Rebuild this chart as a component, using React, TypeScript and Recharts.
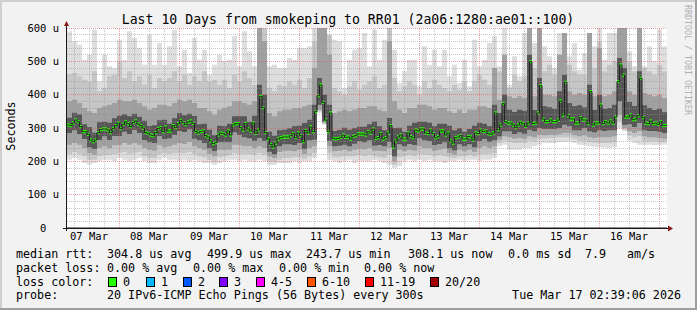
import React from 'react';
import { ComposedChart, Area, Line, XAxis, YAxis, ReferenceLine, CartesianGrid } from 'recharts';

// ---------- data (hourly medians, seconds in µs) ----------
const median = [
  309,307,315,324,319,304,289,289,281,264,
  259,264,286,295,297,297,294,286,298,307,
  315,298,311,319,313,304,316,321,312,307,
  300,286,284,279,277,286,298,301,289,303,
  291,291,307,301,313,323,316,310,318,321,
  314,290,285,289,291,277,273,261,253,256,
  279,285,283,279,291,279,309,313,313,301,
  294,313,297,291,315,284,294,394,361,286,
  267,251,243,255,267,271,273,273,273,277,
  283,271,285,277,259,293,285,303,289,349,
  397,429,377,324,289,345,269,267,269,272,
  279,272,273,267,275,277,282,282,282,279,
  289,285,297,269,271,283,267,271,285,307,
  243,261,273,279,267,267,285,274,271,294,
  291,297,297,285,283,294,283,271,274,291,
  291,279,285,261,255,271,273,277,267,267,
  275,273,264,285,283,294,289,291,283,281,
  285,345,295,309,373,319,315,315,309,301,
  309,317,313,305,315,499,313,315,345,427,
  327,319,319,324,319,319,324,381,339,437,
  337,327,327,315,315,331,324,324,313,409,
  309,315,315,369,313,319,315,321,315,333,
  439,489,459,333,333,339,325,327,337,449,
  331,315,313,321,313,315,311,319,307,308,
];

// smoke (ping distribution) per 2-hour column
const smokeMax = [
  590,560,550,505,520,595,440,520,485,480,
  565,505,590,570,540,490,580,490,555,490,
  545,595,485,535,465,570,505,535,460,490,
  520,500,505,575,485,590,530,485,600,600,
  485,490,480,480,510,505,540,540,545,600,
  600,600,580,565,560,420,505,535,540,585,
  485,595,505,565,600,535,435,470,505,505,
  425,545,490,535,485,535,455,490,435,505,
  425,565,485,505,555,575,485,600,430,515,
  455,585,600,555,600,545,515,480,585,585,
  515,555,475,525,585,545,600,505,585,585,
  600,600,530,485,600,485,545,500,595,545,
];
const smokeHi2 = [
  460,465,455,445,440,470,410,420,455,460,
  500,450,470,440,455,430,460,420,450,440,
  450,470,440,460,430,455,440,470,440,445,
  430,445,420,460,440,470,450,430,600,600,
  420,410,430,425,440,430,445,420,450,560,
  600,600,580,420,410,400,425,440,415,430,
  440,455,420,430,600,450,410,425,440,430,
  400,440,420,445,430,420,410,430,415,440,
  410,440,460,445,430,480,470,520,420,460,
  440,455,600,480,600,470,490,460,520,585,
  490,470,460,460,585,480,560,470,490,500,
  600,600,500,470,600,480,470,460,490,470,
];
const smokeHi3 = [
  380,385,375,360,350,345,360,365,370,375,
  385,380,380,385,375,365,355,360,370,370,
  365,375,385,380,385,375,360,360,350,340,
  355,360,365,380,380,375,370,380,600,560,
  345,335,350,355,355,360,360,365,370,480,
  600,600,520,345,350,355,350,355,360,360,
  365,365,355,350,560,380,355,345,360,360,
  370,370,365,355,360,360,350,345,355,345,
  355,355,365,365,360,480,385,520,395,390,
  395,390,600,395,600,400,400,395,520,585,
  410,400,405,400,585,395,540,395,400,410,
  600,600,410,400,600,405,400,395,400,390,
];
const smokeHi4 = [
  331,346,341,311,303,286,317,319,316,329,
  337,341,335,343,334,322,306,308,323,325,
  313,329,345,338,343,336,311,313,295,278,
  307,305,313,335,335,335,319,337,430,400,
  289,277,293,295,299,305,307,315,325,370,
  450,400,370,291,294,301,295,299,304,304,
  311,319,305,293,330,300,301,289,307,316,
  319,319,316,305,313,313,307,293,299,289,
  297,307,316,313,305,370,345,400,355,348,
  355,352,520,354,450,365,362,358,410,460,
  375,365,368,362,430,354,400,358,360,370,
  510,480,378,366,470,368,360,354,358,347,
];
const smokeLo4 = [
  285,293,282,267,242,237,264,275,264,276,
  276,289,282,294,285,264,257,255,276,267,
  269,279,291,288,296,268,263,255,239,231,
  257,257,257,287,279,272,269,262,270,262,
  229,221,245,251,251,249,255,237,263,265,
  370,320,262,245,247,250,245,253,260,257,
  263,247,249,245,258,215,251,245,252,249,
  269,263,261,249,252,257,239,233,251,245,
  251,242,261,267,259,263,275,290,290,282,
  287,283,295,290,300,297,297,297,300,310,
  305,293,293,300,290,287,293,291,293,293,
  380,310,311,303,315,293,291,291,289,285,
];
const smokeLo3 = [
  250,255,250,240,225,220,240,245,240,248,
  248,255,250,255,250,240,235,232,248,242,
  245,250,255,252,258,245,240,235,222,215,
  235,235,235,250,248,245,245,240,245,240,
  215,210,228,232,232,230,235,222,240,245,
  355,316,245,230,232,235,230,235,238,236,
  240,232,232,230,240,200,235,230,235,232,
  245,240,240,232,235,238,225,220,235,230,
  235,228,240,245,240,245,265,275,272,268,
  270,268,275,272,280,278,280,280,282,285,
  285,278,275,278,272,270,272,272,272,275,
  340,300,290,285,290,275,272,272,270,268,
];
const smokeLo2 = [
  222,228,222,215,205,205,215,220,220,222,
  225,228,222,225,228,215,210,210,222,225,
  222,225,225,225,228,222,215,212,205,200,
  212,215,218,225,222,222,222,220,225,220,
  200,198,205,210,210,212,212,208,215,225,
  350,313,225,212,212,215,215,215,218,215,
  218,215,212,210,220,190,212,215,218,215,
  222,220,220,215,218,215,212,210,215,215,
  218,215,220,222,222,225,255,262,258,255,
  255,256,262,260,268,268,270,270,272,272,
  272,268,262,262,258,256,255,255,255,258,
  320,295,278,272,275,262,260,260,258,258,
];
const smokeMin = [
  205,210,205,195,190,195,200,205,205,200,
  210,205,200,205,210,200,195,195,205,210,
  205,205,200,205,200,205,200,195,195,190,
  195,200,205,205,200,205,200,200,205,200,
  190,190,195,195,195,200,195,200,200,210,
  345,310,205,200,195,200,205,195,200,200,
  200,205,200,195,190,180,185,200,205,200,
  205,200,205,200,200,195,200,200,205,200,
  205,205,200,205,205,210,245,250,235,235,
  235,240,240,245,250,255,255,255,258,258,
  259,255,250,248,245,244,242,241,240,242,
  300,290,262,255,250,248,250,248,249,250,
];

// time axis: hours since 07 Mar 03:12
const dayLabelTicks = [8.8, 32.8, 56.8, 80.8, 104.8, 128.8, 152.8, 176.8, 200.8, 224.8];
const dayLabels = ['07 Mar', '08 Mar', '09 Mar', '10 Mar', '11 Mar', '12 Mar', '13 Mar', '14 Mar', '15 Mar', '16 Mar'];
const dayLines = [20.8, 44.8, 68.8, 92.8, 116.8, 140.8, 164.8, 188.8, 212.8, 236.8];
const sixHourLines = [
  2.8, 8.8, 14.8, 26.8, 32.8, 38.8, 50.8, 56.8, 62.8, 74.8, 80.8, 86.8,
  98.8, 104.8, 110.8, 122.8, 128.8, 134.8, 146.8, 152.8, 158.8, 170.8, 176.8, 182.8,
  194.8, 200.8, 206.8, 218.8, 224.8, 230.8,
];
const yTicks = [0, 100, 200, 300, 400, 500, 600];
const yMinor = [20, 40, 60, 80, 120, 140, 160, 180, 220, 240, 260, 280, 320, 340, 360, 380, 420, 440, 460, 480, 520, 540, 560, 580];

// legend content
const statsRow1 = ['median rtt:', '304.8 us avg', '499.9 us max', '243.7 us min', '308.1 us now', '0.0 ms sd', '7.9', 'am/s'];
const statsRow2 = ['packet loss:', '0.00 % avg', '0.00 % max', '0.00 % min', '0.00 % now'];
const lossLabels = ['0', '1', '2', '3', '4-5', '6-10', '11-19', '20/20'];
const lossColors = ['#26ff00', '#00b8ff', '#0059ff', '#7e00ff', '#ff00ff', '#ff5500', '#ff0000', '#a10000'];

const rows: any[] = median.map((m, i) => {
  const k = Math.floor(i / 2);
  return {
    t: i,
    median: m,
    s1: [smokeMin[k], smokeMax[k]],
    s2: [smokeLo2[k], smokeHi2[k]],
    s3: [smokeLo3[k], smokeHi3[k]],
    s4: [smokeLo4[k], smokeHi4[k]],
  };
});
rows.push({ ...rows[rows.length - 1], t: median.length });

const FONT = '"DejaVu Sans Mono", monospace';

const YTick = (props: any) => {
  const { x, y, payload } = props;
  const v = payload.value;
  const label = v === 0 ? '0\u00a0\u00a0' : `${v} u`;
  return (
    <text x={x} y={y} dy="0.36em" textAnchor="end" fontFamily={FONT} fontSize={10.5} fill="#000">
      {label}
    </text>
  );
};

// layout constants for the legend (pixels)
const row1X = [16, 107, 207, 306, 408, 508, 585, 627];
const row2X = [16, 107, 193, 279, 364];
const boxX = [108, 146, 183, 219, 256, 307, 365, 430];

export default function App() {
  const txt = { fontFamily: FONT, fontSize: 11.7, fill: '#000' } as any;
  return (
    <div style={{ position: 'absolute', left: 0, top: 0, width: 697, height: 310, background: '#f2f2f2', overflow: 'hidden' }}>
      <ComposedChart width={697} height={310} data={rows} margin={{ top: 28, right: 30, bottom: 52, left: 7 }}>
        <CartesianGrid horizontal={false} vertical={false} fill="#ffffff" />
        <XAxis
          dataKey="t"
          type="number"
          domain={[0, 240]}
          allowDataOverflow
          ticks={dayLabelTicks}
          tickFormatter={(v: any, idx: number) => dayLabels[idx]}
          height={30}
          axisLine={{ stroke: '#1a1a1a' }}
          tickLine={false}
          tickSize={0}
          tickMargin={5}
          tick={{ fontFamily: FONT, fontSize: 10.5, fill: '#000' }}
        />
        <YAxis
          type="number"
          domain={[0, 600]}
          allowDataOverflow
          ticks={yTicks}
          width={60}
          axisLine={false}
          tickLine={false}
          tick={<YTick />}
        />
        <Area dataKey="s1" type="stepAfter" stroke="none" fill="#dedede" fillOpacity={1} isAnimationActive={false} />
        <Area dataKey="s2" type="stepAfter" stroke="none" fill="#c6c6c6" fillOpacity={1} isAnimationActive={false} />
        <Area dataKey="s3" type="stepAfter" stroke="none" fill="#a0a0a0" fillOpacity={1} isAnimationActive={false} />
        <Area dataKey="s4" type="stepAfter" stroke="none" fill="#575757" fillOpacity={1} isAnimationActive={false} />
        {yMinor.map((v) => (
          <ReferenceLine key={'ym' + v} y={v} stroke="#8f8f8f" strokeOpacity={0.5} strokeDasharray="1 1" shapeRendering="crispEdges" />
        ))}
        {sixHourLines.map((v) => (
          <ReferenceLine key={'xm' + v} x={v} stroke="#8f8f8f" strokeOpacity={0.5} strokeDasharray="1 1" shapeRendering="crispEdges" />
        ))}
        {yTicks.filter((v) => v > 0).map((v) => (
          <ReferenceLine key={'yM' + v} y={v} stroke="#e05050" strokeOpacity={0.55} strokeDasharray="1 1" shapeRendering="crispEdges" />
        ))}
        {dayLines.map((v) => (
          <ReferenceLine key={'xM' + v} x={v} stroke="#e05050" strokeOpacity={0.55} strokeDasharray="1 1" shapeRendering="crispEdges" />
        ))}
        <Line dataKey="median" type="stepAfter" stroke="#202020" strokeWidth={1} dot={false} activeDot={false} isAnimationActive={false} />
        <Area
          dataKey={(d: any) => [d.median - 5, d.median + 5]}
          type="stepAfter"
          stroke="none"
          fill="#26ff00"
          fillOpacity={1}
          isAnimationActive={false}
        />
      </ComposedChart>
      <svg width={697} height={310} style={{ position: 'absolute', left: 0, top: 0, pointerEvents: 'none' }}>
        <rect x={0} y={0} width={697} height={2} fill="#cfcfcf" />
        <rect x={0} y={0} width={2} height={310} fill="#cfcfcf" />
        <rect x={695} y={0} width={2} height={310} fill="#9e9e9e" />
        <rect x={0} y={308} width={697} height={2} fill="#9e9e9e" />
        {/* axes extensions and arrows */}
        <line x1={66.5} y1={231} x2={66.5} y2={26} stroke="#1a1a1a" strokeWidth={1} />
        <line x1={63} y1={228.5} x2={668} y2={228.5} stroke="#1a1a1a" strokeWidth={1} />
        <polygon points="64,26 66.5,21 69,26" fill="#8b1a1a" />
        <polygon points="668,225.5 673,228.5 668,231.5" fill="#8b1a1a" />
        {/* title */}
        <text x={348} y={24} textAnchor="middle" fontFamily={FONT} fontSize={13.2} fill="#000">
          Last 10 Days from smokeping to RR01 (2a06:1280:ae01::100)
        </text>
        <text transform="translate(685,5) rotate(90)" fontFamily={FONT} fontSize={8.3} fill="#b0b0b0">
          RRDTOOL / TOBI OETIKER
        </text>
        <text transform="translate(14.5,126) rotate(-90)" textAnchor="middle" fontFamily={FONT} fontSize={11.7} fill="#000">
          Seconds
        </text>
        {/* legend */}
        {statsRow1.map((s, i) => (
          <text key={'r1' + i} x={row1X[i]} y={258} {...txt}>{s}</text>
        ))}
        {statsRow2.map((s, i) => (
          <text key={'r2' + i} x={row2X[i]} y={272} {...txt}>{s}</text>
        ))}
        <text x={16} y={286} {...txt}>loss color:</text>
        {lossLabels.map((s, i) => (
          <g key={'lc' + i}>
            <rect x={boxX[i] + 0.5} y={277.5} width={8} height={9} fill={lossColors[i]} stroke="#000" strokeWidth={1} />
            <text x={boxX[i] + 15} y={286} {...txt}>{s}</text>
          </g>
        ))}
        <text x={16} y={299} {...txt}>probe:</text>
        <text x={107} y={299} {...txt}>20 IPv6-ICMP Echo Pings (56 Bytes) every 300s</text>
        <text x={681} y={299} textAnchor="end" {...txt}>Tue Mar 17 02:39:06 2026</text>
      </svg>
    </div>
  );
}
